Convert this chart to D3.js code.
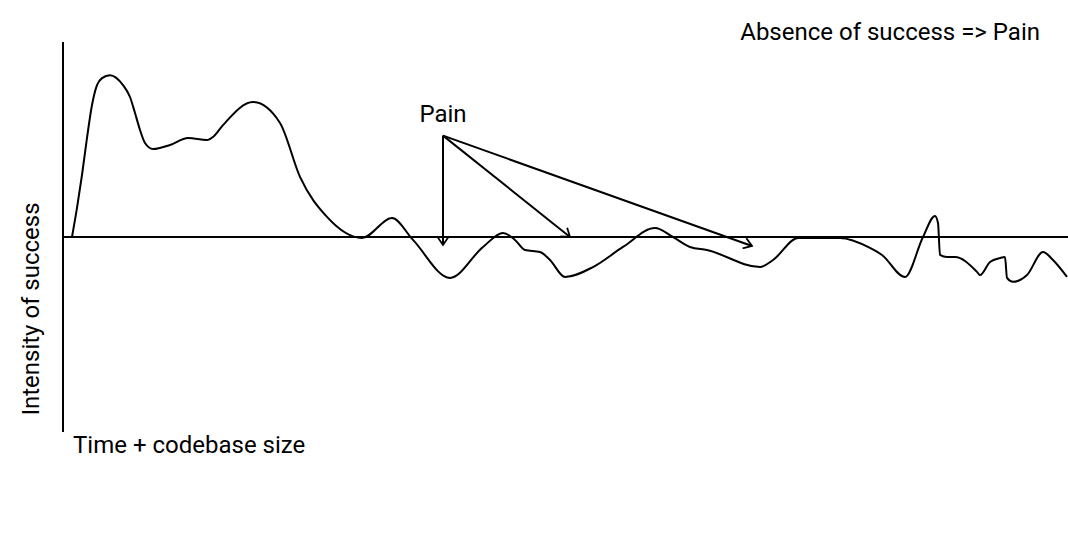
<!DOCTYPE html>
<html><head><meta charset="utf-8">
<script src="https://cdn.jsdelivr.net/npm/d3@7"></script>
<style>body{margin:0;background:#fff;}svg{display:block;}text{font-family:Roboto,"Noto Sans",sans-serif;fill:#000;}</style>
</head><body>
<svg id="c" width="1068" height="542"></svg>
<script>
const times = [9,14,19,24,29,34,39,47,60,67,72,77,82,90,107,125,144,150,160,190,217,237,264,299,329,350,387,420,440,452,462,477,487,502,530,560,592,610,627,644,697,710,735,777,807,819,842,860,872,875,877,884,892,914,917,927,937,942,944,950,964,980,990,1004];
const success = [0,14.9,31.8,50.8,67.7,77.9,81.5,83,77.9,71.8,63.6,54.9,48.2,45.1,47.2,50.8,49.7,51.3,57.4,69.2,58.5,30.8,10.3,-0.5,9.7,-1.5,-21,-5.1,2.1,-1.5,-6.7,-7.7,-11.8,-20.5,-15.4,-5.1,4.6,0,-5.1,-6.7,-15.4,-11.8,-0.5,-0.5,-5.6,-9.2,-20.5,0,10.8,7.2,-9.2,-10.3,-10.3,-17.9,-19.5,-12.8,-10.8,-10.3,-21,-23,-19.5,-7.7,-11.8,-20.5];
const painOrigin = {t:380, v:52};
const painTargets = [{t:380, v:-4.1},{t:507, v:0},{t:689, v:-4.6}];
const xLabel = "Time + codebase size";
const yLabel = "Intensity of success";
const painLabel = "Pain";
const noteLabel = "Absence of success => Pain";

const svg = d3.select("#c");
const x = d3.scaleLinear().domain([0,1005]).range([63,1068]);
const y = d3.scaleLinear().domain([-100,100]).range([432,42]);

svg.append("line").attr("x1",x(0)).attr("x2",x(0)).attr("y1",y(100)).attr("y2",y(-100)).attr("stroke","#000").attr("stroke-width",2);
svg.append("line").attr("x1",x(0)).attr("x2",x(1005)).attr("y1",y(0)).attr("y2",y(0)).attr("stroke","#000").attr("stroke-width",2);

const pts = times.map((t,i)=>[t,success[i]]);
const line = d3.line().x(d=>x(d[0])).y(d=>y(d[1])).curve(d3.curveMonotoneX);
svg.append("path").attr("d",line(pts)).attr("fill","none").attr("stroke","#000").attr("stroke-width",2);

const defs = svg.append("defs");
defs.append("marker").attr("id","ah").attr("viewBox","-10 -6 12 12").attr("refX",0).attr("refY",0)
  .attr("markerWidth",12).attr("markerHeight",12).attr("markerUnits","userSpaceOnUse").attr("orient","auto")
  .append("path").attr("d","M-8,-5.5L0,0L-8,5.5").attr("fill","none").attr("stroke","#000").attr("stroke-width",1.8);

painTargets.forEach(p=>{
  svg.append("line").attr("x1",x(painOrigin.t)).attr("y1",y(painOrigin.v)).attr("x2",x(p.t)).attr("y2",y(p.v))
    .attr("stroke","#000").attr("stroke-width",2).attr("marker-end","url(#ah)");
});

svg.append("text").attr("x",x(painOrigin.t)).attr("y",122).attr("text-anchor","middle").attr("font-size",24).text(painLabel);
svg.append("text").attr("x",1040).attr("y",40).attr("text-anchor","end").attr("font-size",24).text(noteLabel);
svg.append("text").attr("x",73).attr("y",453).attr("font-size",24).text(xLabel);
svg.append("text").attr("transform","translate(39,309) rotate(-90)").attr("text-anchor","middle").attr("font-size",24).text(yLabel);
</script>
</body></html>
